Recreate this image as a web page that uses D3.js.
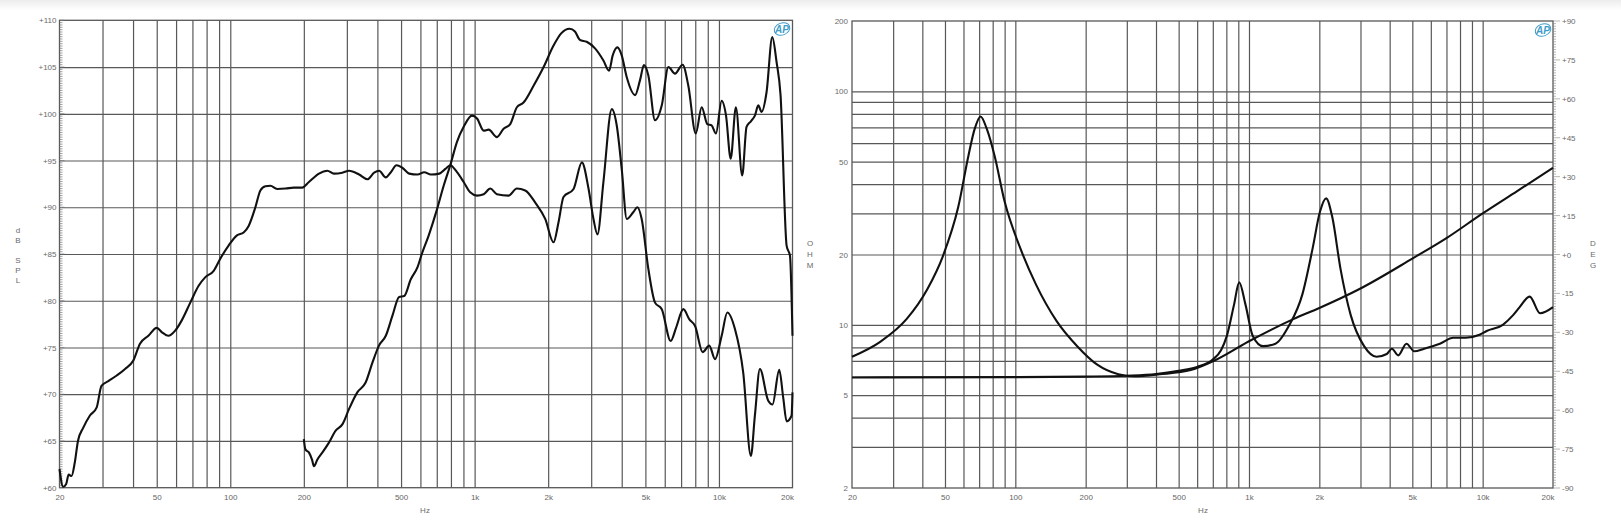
<!DOCTYPE html>
<html><head><meta charset="utf-8">
<script src="https://cdn.jsdelivr.net/npm/d3@7"></script>
<style>
body{margin:0;background:#fff;}
svg{display:block;font-family:"Liberation Sans",Arial,sans-serif;}
.lbl{fill:#666;font-size:8px;}
</style></head><body>
<svg id="c" width="1621" height="527"></svg>
<script>
// ---------- tick / grid data ----------
const freqTicks = [20,50,100,200,500,1000,2000,5000,10000,20000];
const freqTickLabels = ["20","50","100","200","500","1k","2k","5k","10k","20k"];
const freqGrid = [30,40,50,60,70,80,90,100,200,300,400,500,600,700,800,900,1000,2000,3000,4000,5000,6000,7000,8000,9000,10000];
const splTicks = [60,65,70,75,80,85,90,95,100,105,110];
const splTickLabels = ["+60","+65","+70","+75","+80","+85","+90","+95","+100","+105","+110"];
const ohmTicks = [2,5,10,20,50,100,200];
const ohmTickLabels = ["2","5","10","20","50","100","200"];
const ohmGrid = [3,4,5,6,7,8,9,10,20,30,40,50,60,70,80,90,100];
const degTicks = [-90,-75,-60,-45,-30,-15,0,15,30,45,60,75,90];
const degTickLabels = ["-90","-75","-60","-45","-30","-15","+0","+15","+30","+45","+60","+75","+90"];

// ---------- SPL: woofer ----------
const splWooferHz = [20,20.7,21.3,21.8,22.4,23.1,23.8,25,26.6,28.4,29.7,31.7,34.3,37.1,40.1,42.7,46.2,50,52.7,55.8,59.5,63.3,68.6,74.2,78.9,85.5,91,98.4,106.5,113.4,118.9,126.7,132.8,139.2,146,155.5,168.3,182,197,209.8,230.7,249.5,265.7,287.6,306.4,336.7,364,387.9,406.6,433,454,479,507,540,584,622,662,717,759,795,847,902,959,1023,1089,1159,1234,1376,1489,1611,1771,1945,2104,2205,2311,2541,2748,2925,3065,3183,3366,3642,3817,4000,4195,4467,4637,4828,5141,5475,5835,6345,6675,7150,7567,7985,8578,9128,9640,10260,10820,11620,12570,13510,14030,14710,15910,16570,17650,18330,18920,19820,20000];
const splWooferDb = [62.0,60.1,60.4,61.4,61.25,62.7,65.0,66.4,67.7,68.6,70.9,71.4,72.0,72.7,73.6,75.4,76.25,77.1,76.6,76.25,76.8,77.9,79.8,81.6,82.5,83.2,84.5,85.9,87.0,87.3,88.0,90.0,91.8,92.25,92.3,91.96,92.0,92.1,92.1,92.7,93.6,93.9,93.6,93.7,93.9,93.5,93.0,93.7,93.9,93.2,93.75,94.5,94.2,93.6,93.5,93.75,93.5,93.6,94.1,94.5,93.75,92.7,91.6,91.25,91.4,92.0,91.4,91.25,92.0,91.8,90.5,88.75,86.25,88.4,91.1,91.96,94.8,92.0,88.75,87.1,92.7,100.5,98.75,94.1,88.75,89.5,90.0,88.75,83.4,79.8,79.1,75.7,77.1,79.1,78.0,77.3,74.5,75.2,73.75,76.25,78.75,77.0,72.3,63.4,67.7,72.7,69.3,68.9,72.6,69.6,67.1,67.7,70.2];

// ---------- SPL: compression driver ----------
const splDriverHz = [200,203,210,216,220,227,238,253,270,288,306,331,358,382,406,433,461,491,515,548,584,608,649,702,747,795,847,902,975,1023,1089,1141,1234,1314,1399,1489,1585,1743,1916,2104,2261,2447,2574,2697,2874,3110,3366,3549,3675,3840,4000,4195,4537,4753,4933,5141,5475,5835,6210,6610,7100,7494,8036,8498,8963,9333,9721,10260,10690,11170,11730,12450,12970,13510,14030,14490,14940,15660,16530,17220,17870,18920,19530,20000];
const splDriverDb = [65.2,64.1,63.75,63.0,62.3,63.0,63.75,64.8,66.1,66.8,68.4,70.2,71.25,73.4,75.2,76.25,78.4,80.4,80.5,82.3,83.6,85.0,87.0,89.8,92.3,94.5,97.0,98.6,99.8,99.5,98.2,98.3,97.5,98.4,98.9,100.7,101.2,103.0,105.0,107.3,108.6,109.1,108.8,107.9,107.7,107.0,105.7,104.6,106.25,107.1,106.25,103.9,102.0,103.6,105.2,104.1,99.3,100.9,105.0,104.3,105.25,103.0,97.9,100.7,98.9,98.75,97.9,101.4,99.8,95.2,100.7,93.4,98.6,99.2,99.8,100.9,100.2,102.3,108.2,105.5,102.0,85.9,84.8,76.25];

// ---------- Impedance: woofer ----------
const impWooferHz = [20,26.6,34.3,42,49,57,63,67,71,75.5,81.5,90,105,122.5,150,184,225,276,322,415,563,727,1000,1556,2000,3000,5000,7000,10000,14000,20000];
const impWooferOhm = [7.3,8.5,10.6,14.2,19.7,32,53,69,78,69,53,33.7,21.3,14.9,10.4,8.1,6.73,6.14,6.02,6.14,6.4,7.1,8.5,10.6,11.8,14.3,19.2,23.5,30,37.3,47];

// ---------- Impedance: compression driver ----------
const impDriverHz = [20,100,200,300,400,500,600,700,760,804,863,908,966,1038,1149,1298,1482,1692,1873,2011,2138,2271,2463,2725,3109,3513,3888,4090,4350,4720,5100,5620,6560,7490,8460,9700,10400,12200,13500,14400,15900,17600,20000];
const impDriverOhm = [5.95,5.97,6.0,6.05,6.15,6.35,6.6,7.1,7.8,8.96,12.2,15.2,12.2,8.96,8.1,8.3,9.9,13.5,21.3,30.4,34.8,29,17.4,11,8.1,7.3,7.5,7.9,7.4,8.3,7.7,7.9,8.3,8.8,8.8,9.06,9.4,10.0,11.0,11.9,13.2,11.2,11.9];

// ---------- drawing ----------
const svg = d3.select("#c");
const GRID = "#585858", TXT = "#6a6a6a", AP = "#3f9cc9";

// top light band
const defs = svg.append("defs");
const gr = defs.append("linearGradient").attr("id","topg").attr("x1",0).attr("y1",0).attr("x2",0).attr("y2",1);
gr.append("stop").attr("offset","0").attr("stop-color","#ececec");
gr.append("stop").attr("offset","1").attr("stop-color","#ffffff");
svg.append("rect").attr("x",0).attr("y",0).attr("width",1621).attr("height",10).attr("fill","url(#topg)");

const L = {x0:59.5, x1:792.5, y0:20.3, y1:487.7};
const R = {x0:852, x1:1553, y0:21, y1:488};

const xL = d3.scaleLog().domain([20,20000]).range([L.x0,L.x1]);
const yL = d3.scaleLinear().domain([60,110]).range([L.y1,L.y0]);
const xR = d3.scaleLog().domain([20,20000]).range([R.x0,R.x1]);
const yR = d3.scaleLog().domain([2,200]).range([R.y1,R.y0]);
const yP = d3.scaleLinear().domain([-90,90]).range([R.y1,R.y0]);

function styleGrid(g){
  g.select(".domain").remove();
  g.selectAll("line").attr("stroke",GRID).attr("stroke-width",1.2);
}

function drawFrame(P, x, y, hGrid){
  const g = svg.append("g");
  g.append("g").attr("transform",`translate(0,${P.y1})`)
    .call(d3.axisBottom(x).tickValues(freqGrid).tickSize(-(P.y1-P.y0)).tickFormat(""))
    .call(styleGrid);
  g.append("g").attr("transform",`translate(${P.x0},0)`)
    .call(d3.axisLeft(y).tickValues(hGrid).tickSize(-(P.x1-P.x0)).tickFormat(""))
    .call(styleGrid);
  g.append("rect").attr("x",P.x0).attr("y",P.y0).attr("width",P.x1-P.x0).attr("height",P.y1-P.y0)
    .attr("fill","none").attr("stroke",GRID).attr("stroke-width",1.3);
  // x labels
  const lab = g.append("g").attr("transform",`translate(0,${P.y1+12})`)
    .call(d3.axisBottom(x).tickValues(freqTicks).tickSize(0).tickPadding(0)
      .tickFormat((d,i)=>freqTickLabels[i]));
  lab.select(".domain").remove();
  lab.selectAll("text").attr("class","lbl").attr("fill",TXT).attr("font-size",8)
    .attr("font-family","Liberation Sans, Arial, sans-serif").attr("dy",0)
    .attr("text-anchor",(d)=> d===20000 ? "end" : "middle")
    .attr("x",(d)=> d===20000 ? 1 : 0);
  return g;
}

function apLogo(cx, cy){
  const g = svg.append("g").attr("transform",`translate(${cx},${cy})`);
  g.append("ellipse").attr("rx",8).attr("ry",6).attr("fill","none").attr("stroke",AP).attr("stroke-width",1)
    .attr("transform","rotate(-20)");
  g.append("text").attr("x",0).attr("y",3.5).attr("text-anchor","middle")
    .attr("font-size",10).attr("font-style","italic").attr("font-weight","bold").attr("fill",AP).text("AP");
}

// ===== Left chart (SPL) =====
drawFrame(L, xL, yL, splTicks.slice(1,-1));
// minor ticks on left axis
svg.append("g").selectAll("line").data(d3.range(60,110.01,0.25)).join("line")
  .attr("x1",L.x0).attr("x2",d=> (d%5===0)? L.x0+5 : L.x0+3)
  .attr("y1",d=>yL(d)).attr("y2",d=>yL(d)).attr("stroke","#777").attr("stroke-width",0.7);
const yLab = svg.append("g").attr("transform",`translate(${L.x0-3},0)`)
  .call(d3.axisLeft(yL).tickValues(splTicks).tickSize(0).tickPadding(0).tickFormat((d,i)=>splTickLabels[i]));
yLab.select(".domain").remove();
yLab.selectAll("text").attr("fill",TXT).attr("font-size",8).attr("font-family","Liberation Sans, Arial, sans-serif");

const lineL = d3.line().x(d=>xL(d[0])).y(d=>yL(d[1])).curve(d3.curveMonotoneX);
svg.append("path").datum(d3.zip(splWooferHz, splWooferDb)).attr("d",lineL)
  .attr("fill","none").attr("stroke","#111").attr("stroke-width",2.1).attr("stroke-linejoin","round");
svg.append("path").datum(d3.zip(splDriverHz, splDriverDb)).attr("d",lineL)
  .attr("fill","none").attr("stroke","#111").attr("stroke-width",2.1).attr("stroke-linejoin","round");

// axis titles left
svg.append("text").attr("x",425).attr("y",513).attr("text-anchor","middle").attr("font-size",8).attr("fill",TXT).text("Hz");
const dbsp = [["d",230],["B",239.5],["S",259.5],["P",269.5],["L",279.5]];
svg.append("g").selectAll("text").data(dbsp).join("text")
  .attr("x",18).attr("y",d=>d[1]+3).attr("text-anchor","middle").attr("font-size",8).attr("fill",TXT).text(d=>d[0]);
apLogo(782,29);

// ===== Right chart (Impedance / Phase) =====
drawFrame(R, xR, yR, ohmGrid);
const zLab = svg.append("g").attr("transform",`translate(${R.x0-4},0)`)
  .call(d3.axisLeft(yR).tickValues(ohmTicks).tickSize(0).tickPadding(0).tickFormat((d,i)=>ohmTickLabels[i]));
zLab.select(".domain").remove();
zLab.selectAll("text").attr("fill",TXT).attr("font-size",8).attr("font-family","Liberation Sans, Arial, sans-serif");

// right phase axis minor ticks
svg.append("g").selectAll("line").data(d3.range(-90,90.01,1)).join("line")
  .attr("x1",R.x1).attr("x2",d=> (d%15===0)? R.x1+7 : R.x1+3)
  .attr("y1",d=>yP(d)).attr("y2",d=>yP(d)).attr("stroke","#888").attr("stroke-width",0.6);
const pLab = svg.append("g").attr("transform",`translate(${R.x1+9},0)`)
  .call(d3.axisRight(yP).tickValues(degTicks).tickSize(0).tickPadding(0).tickFormat((d,i)=>degTickLabels[i]));
pLab.select(".domain").remove();
pLab.selectAll("text").attr("fill",TXT).attr("font-size",8).attr("font-family","Liberation Sans, Arial, sans-serif");

const lineR = d3.line().x(d=>xR(d[0])).y(d=>yR(d[1])).curve(d3.curveMonotoneX);
svg.append("path").datum(d3.zip(impDriverHz, impDriverOhm)).attr("d",lineR)
  .attr("fill","none").attr("stroke","#111").attr("stroke-width",2.1).attr("stroke-linejoin","round");
svg.append("path").datum(d3.zip(impWooferHz, impWooferOhm)).attr("d",lineR)
  .attr("fill","none").attr("stroke","#111").attr("stroke-width",2.1).attr("stroke-linejoin","round");

svg.append("text").attr("x",1203).attr("y",513).attr("text-anchor","middle").attr("font-size",8).attr("fill",TXT).text("Hz");
svg.append("g").selectAll("text").data([["O",243],["H",254],["M",265]]).join("text")
  .attr("x",810).attr("y",d=>d[1]+3).attr("text-anchor","middle").attr("font-size",8).attr("fill",TXT).text(d=>d[0]);
svg.append("g").selectAll("text").data([["D",243],["E",254],["G",265]]).join("text")
  .attr("x",1593).attr("y",d=>d[1]+3).attr("text-anchor","middle").attr("font-size",8).attr("fill",TXT).text(d=>d[0]);
apLogo(1543,30);
</script>
</body></html>
